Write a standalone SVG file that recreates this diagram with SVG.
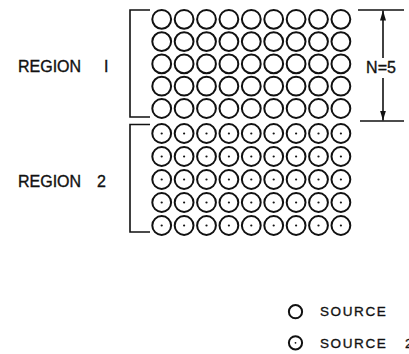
<svg xmlns="http://www.w3.org/2000/svg" xmlns:xlink="http://www.w3.org/1999/xlink" width="409" height="354" viewBox="0 0 409 354">
  <style>
    .ring { fill: none; stroke: #111; stroke-width: 2; }
    .dot { fill: #111; }
    .line { fill: none; stroke: #111; stroke-width: 1.6; }
    .label { font-family: "Liberation Sans", Arial, sans-serif; fill: #111; stroke: #111; stroke-width: 0.35; }
  </style>
  <defs>
    <!-- source 1: plain ring; source 2: ring with centre dot -->
    <g id="src1"><circle class="ring" r="9.4"/></g>
    <g id="src2"><circle class="ring" r="9.4"/><circle class="dot" r="1.1"/></g>
    <g id="row1">
      <use href="#src1" x="161.7"/><use href="#src1" x="184.1"/><use href="#src1" x="206.5"/>
      <use href="#src1" x="228.9"/><use href="#src1" x="251.3"/><use href="#src1" x="273.7"/>
      <use href="#src1" x="296.1"/><use href="#src1" x="318.5"/><use href="#src1" x="340.9"/>
    </g>
    <g id="row2">
      <use href="#src2" x="161.7"/><use href="#src2" x="184.1"/><use href="#src2" x="206.5"/>
      <use href="#src2" x="228.9"/><use href="#src2" x="251.3"/><use href="#src2" x="273.7"/>
      <use href="#src2" x="296.1"/><use href="#src2" x="318.5"/><use href="#src2" x="340.9"/>
    </g>
    <marker id="arrow" viewBox="0 0 10 6" refX="10" refY="3" markerWidth="10" markerHeight="6" markerUnits="userSpaceOnUse" orient="auto">
      <path d="M0,0 L10,3 L0,6 Z" fill="#111"/>
    </marker>
  </defs>

  <rect width="409" height="354" fill="#fff"/>

  <!-- region 1 array -->
  <g id="region1">
    <use href="#row1" y="19.3"/>
    <use href="#row1" y="41.6"/>
    <use href="#row1" y="63.9"/>
    <use href="#row1" y="86.2"/>
    <use href="#row1" y="108.5"/>
    <text class="label" x="18" y="71.5" font-size="16">REGION<tspan x="104">I</tspan></text>
  </g>

  <!-- region 2 array -->
  <g id="region2">
    <use href="#row2" y="133.5"/>
    <use href="#row2" y="156.5"/>
    <use href="#row2" y="179.5"/>
    <use href="#row2" y="202.5"/>
    <use href="#row2" y="225.5"/>
    <text class="label" x="18" y="186.5" font-size="16">REGION<tspan x="97">2</tspan></text>
  </g>

  <!-- brackets and dimension -->
  <g id="connectors">
    <path class="line" d="M150,10 H130 V117 H150"/>
    <path class="line" d="M150,124.5 H130 V232 H150"/>
    <path class="line" d="M358,10 H404"/>
    <path class="line" d="M360,121 H404"/>
    <path class="line" d="M383,58 V10.5" marker-end="url(#arrow)"/>
    <path class="line" d="M383,78 V120.5" marker-end="url(#arrow)"/>
  </g>

  <g id="dimension-label">
    <text class="label" x="381" y="73.3" font-size="16" text-anchor="middle">N=5</text>
  </g>

  <!-- legend -->
  <g id="legend">
    <circle class="ring" cx="295.5" cy="311.7" r="6.6" stroke-width="1.6"/>
    <text class="label" x="320" y="316.3" font-size="13.5" letter-spacing="1.6">SOURCE</text>
    <circle class="ring" cx="295.5" cy="342.8" r="6.6" stroke-width="1.6"/>
    <circle class="dot" cx="295.5" cy="342.8" r="0.9"/>
    <text class="label" x="320" y="347.7" font-size="13.5" letter-spacing="1.6">SOURCE<tspan x="405">2</tspan></text>
  </g>
</svg>
